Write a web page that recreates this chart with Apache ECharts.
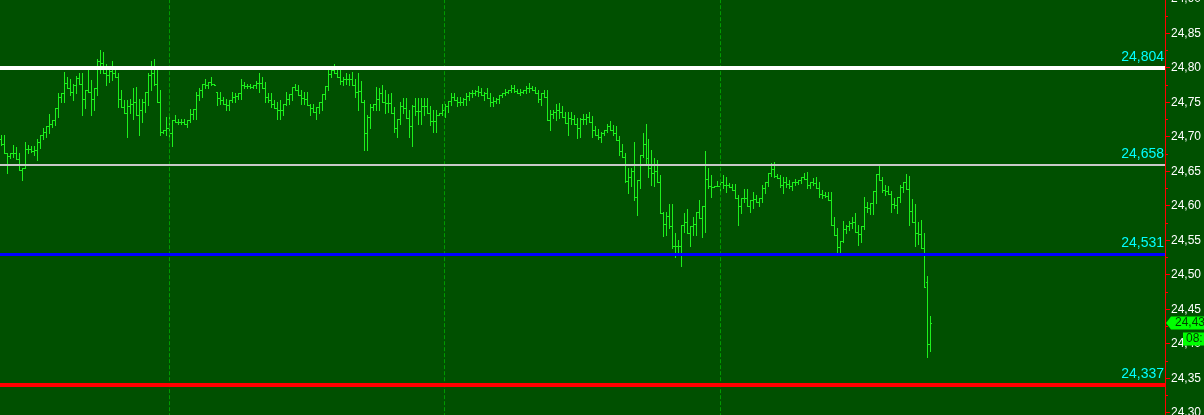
<!DOCTYPE html>
<html>
<head>
<meta charset="utf-8">
<script src="https://cdn.jsdelivr.net/npm/echarts@6/dist/echarts.min.js"></script>
<style>
html,body{margin:0;padding:0;background:#005000;}
#chart{width:1204px;height:415px;}
</style>
</head>
<body>
<div id="chart"></div>
<script>
// ---- data (prices, one OHLC bar per entry) ----
const opens = [
24.697,24.689,24.676,24.672,24.676,24.676,24.668,24.652,24.654,24.682,
24.682,24.680,24.681,24.693,24.702,24.707,24.715,24.719,24.724,24.741,
24.757,24.764,24.778,24.771,24.765,24.775,24.785,24.777,24.754,24.768,
24.765,24.754,24.770,24.809,24.807,24.792,24.790,24.795,24.793,24.787,
24.755,24.743,24.734,24.744,24.748,24.751,24.731,24.738,24.750,24.765,
24.789,24.793,24.776,24.751,24.707,24.710,24.712,24.705,24.724,24.722,
24.722,24.722,24.719,24.724,24.733,24.740,24.761,24.767,24.776,24.775,
24.780,24.776,24.765,24.756,24.753,24.748,24.746,24.753,24.757,24.759,
24.763,24.775,24.773,24.773,24.772,24.775,24.778,24.778,24.770,24.757,
24.753,24.747,24.741,24.739,24.739,24.748,24.755,24.762,24.772,24.768,
24.760,24.756,24.755,24.746,24.742,24.736,24.743,24.750,24.762,24.773,
24.791,24.797,24.793,24.787,24.781,24.784,24.783,24.784,24.775,24.765,
24.766,24.751,24.706,24.729,24.743,24.747,24.754,24.763,24.751,24.749,
24.749,24.735,24.712,24.725,24.745,24.741,24.727,24.716,24.744,24.737,
24.737,24.744,24.745,24.734,24.723,24.723,24.732,24.734,24.738,24.744,
24.752,24.758,24.753,24.751,24.751,24.754,24.759,24.763,24.764,24.766,
24.765,24.761,24.763,24.756,24.751,24.752,24.754,24.760,24.764,24.765,
24.767,24.770,24.766,24.764,24.765,24.768,24.771,24.770,24.767,24.763,
24.754,24.763,24.758,24.724,24.733,24.736,24.738,24.736,24.729,24.720,
24.727,24.725,24.719,24.713,24.726,24.726,24.729,24.722,24.709,24.703,
24.700,24.706,24.710,24.716,24.710,24.705,24.695,24.680,24.671,24.636,
24.641,24.650,24.612,24.637,24.673,24.689,24.669,24.655,24.648,24.650,
24.635,24.589,24.574,24.585,24.570,24.542,24.541,24.542,24.572,24.577,
24.560,24.570,24.574,24.591,24.582,24.600,24.639,24.628,24.627,24.628,
24.628,24.634,24.630,24.630,24.627,24.623,24.611,24.600,24.611,24.611,
24.599,24.608,24.610,24.606,24.611,24.626,24.635,24.648,24.653,24.643,
24.640,24.630,24.634,24.631,24.629,24.634,24.634,24.637,24.642,24.638,
24.630,24.635,24.633,24.625,24.617,24.616,24.614,24.608,24.572,24.558,
24.540,24.549,24.566,24.571,24.575,24.576,24.562,24.559,24.571,24.598,
24.596,24.604,24.622,24.646,24.637,24.623,24.622,24.617,24.603,24.601,
24.612,24.627,24.635,24.624,24.593,24.577,24.561,24.559,24.538,24.490,
24.400];
const highs = [
24.703,24.702,24.676,24.676,24.688,24.685,24.676,24.654,24.692,24.688,
24.686,24.686,24.697,24.702,24.712,24.715,24.733,24.724,24.741,24.763,
24.764,24.794,24.787,24.783,24.777,24.788,24.793,24.792,24.768,24.801,
24.782,24.770,24.813,24.826,24.823,24.806,24.801,24.809,24.799,24.792,
24.768,24.753,24.753,24.755,24.770,24.772,24.755,24.755,24.765,24.792,
24.810,24.812,24.801,24.768,24.710,24.729,24.729,24.724,24.731,24.725,
24.725,24.725,24.724,24.740,24.740,24.765,24.770,24.777,24.783,24.780,
24.786,24.777,24.765,24.765,24.758,24.755,24.753,24.765,24.763,24.763,
24.783,24.780,24.777,24.777,24.775,24.781,24.792,24.786,24.780,24.763,
24.763,24.753,24.751,24.753,24.748,24.765,24.762,24.772,24.777,24.775,
24.768,24.765,24.765,24.748,24.748,24.743,24.751,24.762,24.773,24.800,
24.797,24.806,24.799,24.797,24.787,24.792,24.791,24.794,24.784,24.792,
24.781,24.753,24.731,24.747,24.747,24.772,24.771,24.775,24.768,24.762,
24.763,24.743,24.725,24.751,24.756,24.756,24.739,24.746,24.756,24.756,
24.756,24.756,24.756,24.744,24.739,24.739,24.734,24.747,24.747,24.752,
24.763,24.763,24.757,24.757,24.756,24.763,24.765,24.768,24.767,24.773,
24.770,24.765,24.770,24.763,24.758,24.756,24.760,24.764,24.769,24.767,
24.775,24.775,24.769,24.769,24.768,24.773,24.778,24.774,24.772,24.768,
24.763,24.768,24.767,24.739,24.739,24.748,24.749,24.744,24.736,24.736,
24.736,24.732,24.727,24.727,24.733,24.733,24.736,24.730,24.716,24.711,
24.707,24.710,24.719,24.723,24.717,24.715,24.701,24.690,24.676,24.654,
24.654,24.693,24.637,24.673,24.705,24.719,24.696,24.681,24.669,24.666,
24.645,24.591,24.591,24.603,24.603,24.560,24.551,24.572,24.589,24.595,
24.571,24.584,24.591,24.608,24.600,24.679,24.654,24.644,24.628,24.636,
24.637,24.644,24.641,24.633,24.632,24.632,24.615,24.611,24.624,24.624,
24.608,24.620,24.615,24.611,24.630,24.635,24.648,24.662,24.664,24.646,
24.644,24.642,24.642,24.637,24.635,24.638,24.637,24.642,24.648,24.649,
24.635,24.640,24.641,24.635,24.623,24.620,24.620,24.620,24.584,24.567,
24.549,24.578,24.572,24.578,24.584,24.590,24.572,24.571,24.612,24.606,
24.604,24.622,24.646,24.660,24.641,24.630,24.628,24.622,24.611,24.612,
24.630,24.635,24.646,24.643,24.609,24.602,24.577,24.580,24.560,24.498,
24.440];
const lows = [
24.688,24.676,24.648,24.669,24.671,24.668,24.652,24.637,24.654,24.676,
24.678,24.673,24.666,24.684,24.697,24.700,24.705,24.714,24.717,24.729,
24.751,24.751,24.770,24.760,24.753,24.763,24.777,24.731,24.741,24.765,
24.731,24.739,24.760,24.792,24.792,24.775,24.780,24.782,24.787,24.743,
24.743,24.734,24.700,24.734,24.726,24.731,24.702,24.722,24.736,24.746,
24.768,24.775,24.751,24.702,24.705,24.702,24.695,24.686,24.722,24.719,
24.719,24.719,24.714,24.722,24.726,24.726,24.753,24.758,24.770,24.770,
24.775,24.775,24.746,24.748,24.748,24.739,24.739,24.751,24.751,24.755,
24.755,24.770,24.770,24.770,24.770,24.770,24.765,24.770,24.751,24.751,
24.743,24.741,24.725,24.725,24.731,24.746,24.748,24.753,24.768,24.760,
24.748,24.748,24.746,24.731,24.736,24.726,24.735,24.739,24.754,24.768,
24.786,24.792,24.787,24.776,24.775,24.777,24.775,24.775,24.757,24.738,
24.751,24.681,24.681,24.712,24.739,24.739,24.738,24.751,24.735,24.736,
24.735,24.707,24.699,24.719,24.734,24.727,24.700,24.686,24.732,24.719,
24.719,24.732,24.734,24.717,24.707,24.707,24.731,24.731,24.729,24.736,
24.746,24.753,24.744,24.746,24.746,24.746,24.753,24.758,24.761,24.759,
24.761,24.753,24.756,24.744,24.744,24.749,24.749,24.758,24.760,24.763,
24.765,24.765,24.763,24.760,24.763,24.763,24.765,24.767,24.763,24.751,
24.746,24.758,24.724,24.709,24.727,24.724,24.727,24.729,24.720,24.703,
24.718,24.719,24.698,24.700,24.719,24.719,24.722,24.700,24.703,24.696,
24.693,24.703,24.707,24.710,24.703,24.695,24.673,24.671,24.635,24.618,
24.628,24.608,24.587,24.625,24.671,24.659,24.642,24.630,24.628,24.635,
24.589,24.556,24.557,24.567,24.538,24.525,24.531,24.513,24.562,24.560,
24.541,24.557,24.557,24.582,24.555,24.562,24.625,24.613,24.627,24.628,
24.620,24.625,24.620,24.627,24.623,24.611,24.572,24.589,24.606,24.599,
24.591,24.596,24.606,24.600,24.606,24.618,24.629,24.643,24.642,24.640,
24.627,24.618,24.627,24.625,24.623,24.630,24.632,24.633,24.638,24.625,
24.625,24.630,24.625,24.613,24.611,24.613,24.608,24.572,24.558,24.532,
24.532,24.548,24.560,24.565,24.567,24.562,24.543,24.548,24.566,24.591,
24.588,24.588,24.604,24.637,24.620,24.616,24.617,24.591,24.596,24.590,
24.606,24.620,24.624,24.572,24.577,24.542,24.545,24.538,24.482,24.381,
24.390];
const closes = [
24.689,24.676,24.672,24.676,24.676,24.668,24.652,24.654,24.682,24.682,
24.680,24.681,24.693,24.702,24.707,24.715,24.719,24.724,24.741,24.757,
24.764,24.778,24.771,24.765,24.775,24.785,24.777,24.754,24.768,24.765,
24.754,24.770,24.809,24.807,24.792,24.790,24.795,24.793,24.787,24.755,
24.743,24.734,24.744,24.748,24.751,24.731,24.738,24.750,24.765,24.789,
24.793,24.776,24.751,24.707,24.710,24.712,24.705,24.724,24.722,24.722,
24.722,24.719,24.724,24.733,24.740,24.761,24.767,24.776,24.775,24.780,
24.776,24.775,24.756,24.753,24.748,24.746,24.753,24.757,24.759,24.763,
24.775,24.773,24.773,24.772,24.775,24.778,24.778,24.770,24.757,24.753,
24.747,24.741,24.739,24.739,24.748,24.755,24.762,24.772,24.768,24.760,
24.756,24.755,24.746,24.742,24.736,24.743,24.750,24.762,24.773,24.791,
24.797,24.793,24.787,24.781,24.784,24.783,24.784,24.775,24.765,24.766,
24.751,24.706,24.729,24.743,24.747,24.754,24.763,24.751,24.749,24.749,
24.735,24.712,24.725,24.745,24.741,24.727,24.716,24.744,24.737,24.737,
24.744,24.745,24.734,24.723,24.723,24.732,24.734,24.738,24.744,24.752,
24.758,24.753,24.751,24.751,24.754,24.759,24.763,24.764,24.766,24.765,
24.761,24.763,24.756,24.751,24.752,24.754,24.760,24.764,24.765,24.767,
24.770,24.766,24.764,24.765,24.768,24.771,24.770,24.767,24.763,24.754,
24.763,24.758,24.724,24.733,24.736,24.738,24.736,24.729,24.720,24.727,
24.725,24.719,24.713,24.726,24.726,24.729,24.722,24.709,24.703,24.700,
24.706,24.710,24.716,24.710,24.705,24.695,24.680,24.671,24.636,24.641,
24.650,24.612,24.637,24.673,24.689,24.669,24.655,24.648,24.650,24.635,
24.589,24.574,24.585,24.570,24.542,24.541,24.542,24.572,24.577,24.560,
24.570,24.574,24.591,24.582,24.600,24.639,24.628,24.627,24.628,24.628,
24.634,24.630,24.630,24.627,24.623,24.611,24.600,24.611,24.611,24.599,
24.608,24.610,24.606,24.611,24.626,24.635,24.648,24.653,24.643,24.640,
24.630,24.634,24.631,24.629,24.634,24.634,24.637,24.642,24.638,24.630,
24.635,24.633,24.625,24.617,24.616,24.614,24.608,24.572,24.558,24.540,
24.549,24.566,24.571,24.575,24.576,24.562,24.559,24.571,24.598,24.596,
24.604,24.622,24.646,24.637,24.623,24.622,24.617,24.603,24.601,24.612,
24.627,24.635,24.624,24.593,24.577,24.561,24.559,24.538,24.482,24.400,
24.430];

// horizontal reference levels (white, grey, blue, red)
const levels = [24.804, 24.658, 24.531, 24.337];
// bar indexes where the dashed session separators sit
const separators = [56, 148, 240];
// y-axis scale
const yMin = 24.25, yMax = 24.95, yStep = 0.05;
// countdown text shown under the last-price tag
const timerText = '08:';

// ---- chart ----
const BAR = '#1df01d';
const BG = '#005000';
const FONT = '"Liberation Sans", Arial, sans-serif';
const fmt2 = v => v.toFixed(2).replace('.', ',');
const fmt3 = v => v.toFixed(3).replace('.', ',');

const chart = echarts.init(document.getElementById('chart'), null, {renderer: 'canvas'});
const barData = opens.map((o, i) => [i, o, highs[i], lows[i], closes[i]]);
const levelStyles = [
  {color: '#ffffff', width: 4},
  {color: '#c8c8c8', width: 2},
  {color: '#0000ff', width: 3},
  {color: '#ff0000', width: 4}
];

chart.setOption({
  backgroundColor: BG,
  animation: false,
  grid: {left: 0, right: 39, top: -35.8, bottom: -32.2, containLabel: false, outerBoundsMode: 'none'},
  xAxis: {
    type: 'value', min: -0.333, max: 388.3,
    show: false, splitLine: {show: false}
  },
  yAxis: {
    type: 'value', position: 'right',
    min: yMin, max: yMax, interval: yStep,
    axisLine: {show: true, onZero: false, lineStyle: {color: '#ff0000', width: 1}},
    axisTick: {show: true, length: 5, lineStyle: {color: '#ff0000'}},
    minorTick: {show: true, splitNumber: 2, length: 3, lineStyle: {color: '#ff0000'}},
    splitLine: {show: false},
    axisLabel: {
      color: '#ffffff', fontSize: 12, fontFamily: FONT, margin: 6,
      formatter: v => fmt2(v)
    }
  },
  series: [{
    type: 'custom',
    data: barData,
    encode: {x: 0, y: [1, 2, 3, 4]},
    clip: false,
    renderItem: function (params, api) {
      const i = api.value(0);
      const pO = api.coord([i, api.value(1)]);
      const pH = api.coord([i, api.value(2)]);
      const pL = api.coord([i, api.value(3)]);
      const pC = api.coord([i, api.value(4)]);
      const x = Math.round(pH[0]) + 0.5;
      const st = {stroke: BAR, lineWidth: 1};
      const yo = Math.round(pO[1]) + 0.5, yc = Math.round(pC[1]) + 0.5;
      return {
        type: 'group',
        children: [
          {type: 'line', shape: {x1: x, y1: Math.round(pH[1]), x2: x, y2: Math.round(pL[1]) + 1}, style: st},
          {type: 'line', shape: {x1: x - 1.5, y1: yo, x2: x, y2: yo}, style: st},
          {type: 'line', shape: {x1: x, y1: yc, x2: x + 1.5, y2: yc}, style: st}
        ]
      };
    },
    markLine: {
      silent: true, symbol: 'none', animation: false,
      data: separators.map(s => ({
        xAxis: s,
        lineStyle: {color: '#009a00', width: 1, type: [4, 2]},
        label: {show: false}
      })).concat(levels.map((v, k) => ({
        yAxis: v,
        lineStyle: {color: levelStyles[k].color, width: levelStyles[k].width, type: 'solid'},
        label: {
          show: true, position: 'insideEndTop', distance: [1, 2 + levelStyles[k].width / 2],
          color: '#00ffff', fontSize: 14, fontFamily: FONT,
          formatter: () => fmt3(v)
        }
      })))
    }
  }]
});

// last-price tag and countdown box on the price axis
const last = closes[closes.length - 1];
const py = chart.convertToPixel({yAxisIndex: 0}, last);
const ax = chart.convertToPixel({xAxisIndex: 0}, 388.3);
chart.setOption({
  graphic: [
    {
      type: 'polygon', z: 100,
      shape: {points: [[ax + 1, py], [ax + 6, py - 6.5], [1204, py - 6.5], [1204, py + 6.5], [ax + 6, py + 6.5]]},
      style: {fill: '#00ff00'}
    },
    {
      type: 'text', z: 101, x: ax + 10, y: py,
      style: {text: fmt2(last), fill: '#004000', font: '12px ' + FONT, verticalAlign: 'middle', textAlign: 'left'}
    },
    {
      type: 'rect', z: 100,
      shape: {x: ax + 18, y: py + 9.5, width: 1204 - ax - 18, height: 13},
      style: {fill: '#00ff00'}
    },
    {
      type: 'text', z: 101, x: ax + 21, y: py + 16,
      style: {text: timerText, fill: '#004000', font: '12px ' + FONT, verticalAlign: 'middle', textAlign: 'left'}
    }
  ]
});
</script>
</body>
</html>
